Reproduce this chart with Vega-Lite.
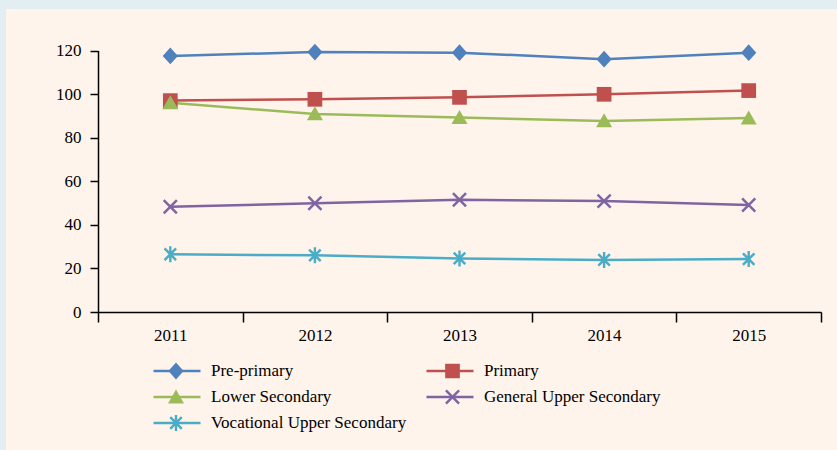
{
  "$schema": "https://vega.github.io/schema/vega-lite/v6.json",
  "width": 831,
  "height": 441,
  "autosize": {"type": "none"},
  "padding": {"left": 6, "top": 9, "right": 0, "bottom": 0},
  "background": "#e2eef1",
  "config": {
    "view": {"fill": "#fef4ec", "stroke": null},
    "axis": {
      "domainColor": "#000000",
      "domainWidth": 1.5,
      "tickColor": "#000000",
      "tickWidth": 1.5,
      "labelFont": "Liberation Serif",
      "labelFontSize": 17,
      "labelColor": "#000000",
      "grid": false
    }
  },
  "data": {
    "values": [
      {"year": 2011, "series": "Pre-primary", "value": 117.5},
      {"year": 2012, "series": "Pre-primary", "value": 119.3},
      {"year": 2013, "series": "Pre-primary", "value": 119.0},
      {"year": 2014, "series": "Pre-primary", "value": 116.0},
      {"year": 2015, "series": "Pre-primary", "value": 119.0},
      {"year": 2011, "series": "Primary", "value": 97.0},
      {"year": 2012, "series": "Primary", "value": 97.6},
      {"year": 2013, "series": "Primary", "value": 98.5},
      {"year": 2014, "series": "Primary", "value": 99.9},
      {"year": 2015, "series": "Primary", "value": 101.6},
      {"year": 2011, "series": "Lower Secondary", "value": 96.0},
      {"year": 2012, "series": "Lower Secondary", "value": 90.9},
      {"year": 2013, "series": "Lower Secondary", "value": 89.2},
      {"year": 2014, "series": "Lower Secondary", "value": 87.7},
      {"year": 2015, "series": "Lower Secondary", "value": 89.0},
      {"year": 2011, "series": "General Upper Secondary", "value": 48.3},
      {"year": 2012, "series": "General Upper Secondary", "value": 49.9},
      {"year": 2013, "series": "General Upper Secondary", "value": 51.5},
      {"year": 2014, "series": "General Upper Secondary", "value": 50.9},
      {"year": 2015, "series": "General Upper Secondary", "value": 49.1},
      {"year": 2011, "series": "Vocational Upper Secondary", "value": 26.5},
      {"year": 2012, "series": "Vocational Upper Secondary", "value": 26.0},
      {"year": 2013, "series": "Vocational Upper Secondary", "value": 24.6},
      {"year": 2014, "series": "Vocational Upper Secondary", "value": 23.9},
      {"year": 2015, "series": "Vocational Upper Secondary", "value": 24.3}
    ]
  },
  "resolve": {"legend": {"color": "independent", "shape": "independent"}},
  "layer": [
    {
      "mark": {"type": "line", "strokeWidth": 2.5},
      "encoding": {
        "x": {
          "field": "year",
          "type": "quantitative",
          "scale": {"domain": [2010.5, 2015.5], "range": [92, 815], "nice": false, "zero": false},
          "axis": {
            "orient": "bottom",
            "offset": -138,
            "values": [2010.5, 2011.5, 2012.5, 2013.5, 2014.5, 2015.5],
            "tickSize": 10,
            "labelPadding": 5,
            "labelOffset": 72.3,
            "labelExpr": "datum.value < 2015 ? '' + (datum.value + 0.5) : ''",
            "labelOverlap": false,
            "labelFlush": false,
            "labelBound": false,
            "title": null
          }
        },
        "y": {
          "field": "value",
          "type": "quantitative",
          "scale": {"domain": [0, 120], "range": [303, 41.5], "nice": false, "zero": true},
          "axis": {
            "orient": "left",
            "offset": -92,
            "values": [0, 20, 40, 60, 80, 100, 120],
            "tickSize": 8,
            "labelPadding": 9,
            "title": null
          }
        },
        "color": {
          "field": "series",
          "type": "nominal",
          "scale": {
            "domain": ["Pre-primary", "Primary", "Lower Secondary", "General Upper Secondary", "Vocational Upper Secondary"],
            "range": ["#4f81bd", "#c0504d", "#9bbb59", "#8064a2", "#4bacc6"]
          },
          "legend": {
            "orient": "none",
            "direction": "horizontal",
            "legendX": 146,
            "legendY": 353,
            "columns": 2,
            "symbolType": "stroke",
            "symbolSize": 2209,
            "symbolStrokeWidth": 2.5,
            "clipHeight": 18,
            "labelOffset": 9,
            "columnPadding": 18,
            "rowPadding": 8,
            "labelFont": "Liberation Serif",
            "labelFontSize": 17,
            "labelColor": "#000000",
            "labelLimit": 400,
            "title": null,
            "padding": 0,
            "symbolOpacity": 1
          }
        }
      }
    },
    {
      "mark": {"type": "point", "filled": true, "size": 256, "opacity": 1, "strokeWidth": 0},
      "encoding": {
        "x": {"field": "year", "type": "quantitative"},
        "y": {"field": "value", "type": "quantitative"},
        "color": {
          "field": "series",
          "type": "nominal",
          "legend": {
            "orient": "none",
            "direction": "horizontal",
            "legendX": 146,
            "legendY": 353,
            "columns": 2,
            "symbolSize": 256,
            "symbolOffset": 15.5,
            "symbolStrokeWidth": 0,
            "clipHeight": 18,
            "labelOffset": 0,
            "labelExpr": "''",
            "columnPadding": 243.5,
            "rowPadding": 8,
            "labelFontSize": 17,
            "title": null,
            "padding": 0,
            "symbolOpacity": 1
          }
        },
        "shape": {
          "field": "series",
          "type": "nominal",
          "scale": {
            "domain": ["Pre-primary", "Primary", "Lower Secondary", "General Upper Secondary", "Vocational Upper Secondary"],
            "range": [
              "M0,-1.05L0.95,0L0,1.05L-0.95,0Z",
              "M-0.92,-0.92L0.92,-0.92L0.92,0.92L-0.92,0.92Z",
              "M0,-0.95L1,0.8L-1,0.8Z",
              "M-0.71,-0.93L0.93,0.71L0.71,0.93L-0.93,-0.71ZM-0.93,0.71L0.71,-0.93L0.93,-0.71L-0.71,0.93Z",
              "M-0.61,-0.83L0.83,0.61L0.61,0.83L-0.83,-0.61ZM-0.83,0.61L0.61,-0.83L0.83,-0.61L-0.61,0.83ZM-0.15,-1L0.15,-1L0.15,1L-0.15,1Z"
            ]
          },
          "legend": {
            "orient": "none",
            "direction": "horizontal",
            "legendX": 146,
            "legendY": 353,
            "columns": 2,
            "symbolSize": 256,
            "symbolOffset": 15.5,
            "symbolStrokeWidth": 0,
            "clipHeight": 18,
            "labelOffset": 0,
            "labelExpr": "''",
            "columnPadding": 243.5,
            "rowPadding": 8,
            "labelFontSize": 17,
            "title": null,
            "padding": 0,
            "symbolOpacity": 1
          }
        }
      }
    }
  ]
}
